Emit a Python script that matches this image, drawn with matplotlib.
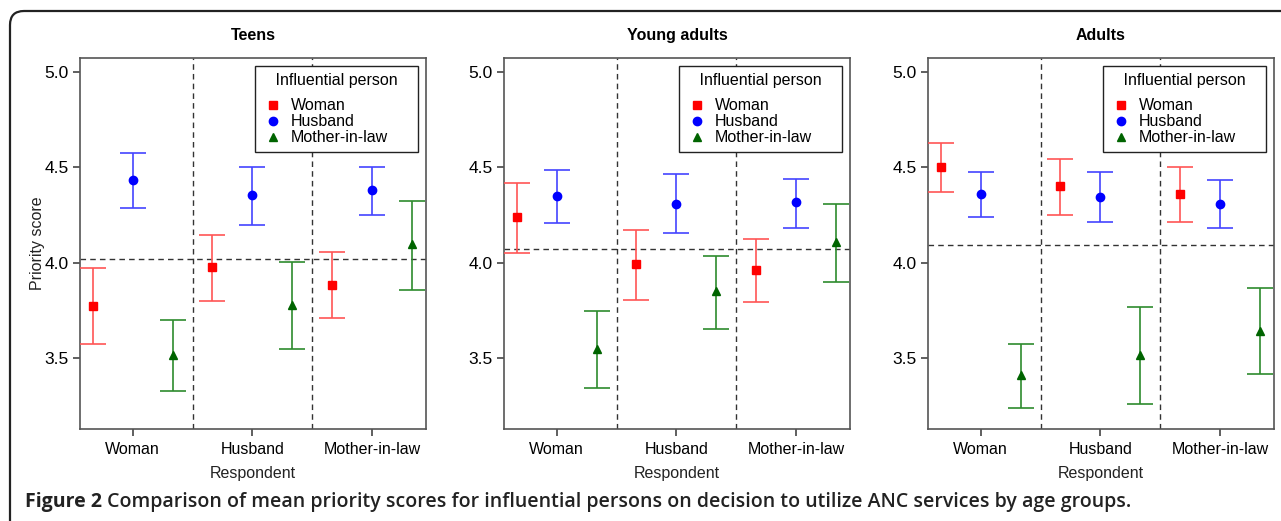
import numpy as np
import matplotlib.pyplot as plt
from matplotlib.lines import Line2D
from matplotlib.patches import FancyBboxPatch

## DADOS
grupos = ['Teens', 'Young adults', 'Adults']
respondentes = ['Woman', 'Husband', 'Mother-in-law']
influentes = ['Woman', 'Husband', 'Mother-in-law']

# linhas = pessoa influente (Woman, Husband, Mother-in-law), colunas = respondente
teens_media = [[3.775, 3.975, 3.885], [4.435, 4.356, 4.382], [3.518, 3.777, 4.098]]
teens_inf = [[3.571, 3.797, 3.712], [4.286, 4.199, 4.251], [3.326, 3.545, 3.857]]
teens_sup = [[3.972, 4.147, 4.054], [4.577, 4.504, 4.504], [3.700, 4.002, 4.325]]

young_media = [[4.237, 3.993, 3.960], [4.347, 4.310, 4.316], [3.550, 3.850, 4.108]]
young_inf = [[4.050, 3.803, 3.792], [4.208, 4.155, 4.182], [3.342, 3.654, 3.897]]
young_sup = [[4.420, 4.173, 4.126], [4.488, 4.464, 4.440], [3.745, 4.037, 4.309]]

adults_media = [[4.501, 4.400, 4.360], [4.360, 4.344, 4.310], [3.410, 3.518, 3.644]]
adults_inf = [[4.373, 4.250, 4.213], [4.239, 4.213, 4.182], [3.236, 3.257, 3.414]]
adults_sup = [[4.630, 4.545, 4.499], [4.473, 4.473, 4.435], [3.574, 3.766, 3.865]]

media_geral = [4.020, 4.073, 4.094]

dados = [(teens_media, teens_inf, teens_sup),
         (young_media, young_inf, young_sup),
         (adults_media, adults_inf, adults_sup)]

## ESTILO
plt.rcParams['font.family'] = ['Liberation Sans', 'DejaVu Sans']
plt.rcParams['font.size'] = 11.5

cores_marc = ['#ff0000', '#0000ff', '#006400']
cores_barra = ['#ff5555', '#4444ff', '#2e8b2e']
marcadores = ['s', 'o', '^']
tam_marc = [5.5, 6, 6]
desloc = [-1/3, 0, 1/3]

fig = plt.figure(figsize=(12.81, 5.21), dpi=100)

# moldura arredondada
fundo = fig.add_axes([0, 0, 1, 1], zorder=-1)
fundo.set_xlim(0, 1281)
fundo.set_ylim(521, 0)
fundo.axis('off')
fundo.add_patch(FancyBboxPatch((10, 11), 1320, 560, boxstyle='round,pad=0,rounding_size=14',
                               facecolor='white', edgecolor='#222222', linewidth=1.6))

esquerdas = [80, 504, 928]
x = np.arange(1, 4)
for i, (grupo, (med, inf, sup)) in enumerate(zip(grupos, dados)):
    ax = fig.add_axes([esquerdas[i] / 1281, 92 / 521, 346 / 1281, 371 / 521])
    for j in range(3):
        m = np.array(med[j])
        erro = [m - np.array(inf[j]), np.array(sup[j]) - m]
        ax.errorbar(x + desloc[j], m, yerr=erro, fmt='none', ecolor=cores_barra[j],
                    elinewidth=1.2, capsize=9.5, capthick=1.2, zorder=3)
        ax.plot(x + desloc[j], m, linestyle='none', marker=marcadores[j], color=cores_marc[j],
                markersize=tam_marc[j], zorder=4)
    ax.axhline(media_geral[i], color='#333333', linestyle=(0, (4, 3)), linewidth=1, zorder=2)
    for xv in [1.5, 2.5]:
        ax.axvline(xv, color='#333333', linestyle=(0, (4, 3)), linewidth=1, zorder=2)
    ax.set_xlim(0.56, 3.45)
    ax.set_ylim(3.128, 5.073)
    ax.set_yticks([3.5, 4.0, 4.5, 5.0])
    ax.set_yticklabels(['3.5', '4.0', '4.5', '5.0'], fontsize=12.5)
    ax.set_xticks(x)
    ax.set_xticklabels(respondentes, fontsize=11.5)
    ax.tick_params(axis='both', direction='out', length=5, width=1.2, color='#444444', pad=3)
    ax.tick_params(axis='x', pad=4.5)
    for sp in ax.spines.values():
        sp.set_color('#555555')
        sp.set_linewidth(1.2)
    ax.set_xlabel('Respondent', fontsize=11.5, color='#222222', labelpad=6)
    if i == 0:
        ax.set_ylabel('Priority score', fontsize=11.5, color='#222222', labelpad=0)
    ax.set_title(grupo, fontsize=11.5, fontweight='bold', pad=13)

    alcas = [Line2D([0], [0], linestyle='none', marker=marcadores[k], color=cores_marc[k],
                    markersize=tam_marc[k]) for k in range(3)]
    leg = ax.legend(alcas, influentes, title='   Influential person   ', loc='upper right',
                    fontsize=11.5, title_fontsize=11.5, fancybox=False, framealpha=1,
                    edgecolor='#222222', borderaxespad=0.5, labelspacing=0.07,
                    handlelength=1.3, handletextpad=0.5, borderpad=0.42,
                    alignment='left')
    leg._legend_box.sep = 7.5
    leg.get_frame().set_linewidth(1.0)
    leg.set_zorder(5)

# legenda da figura
t1 = fig.text(25 / 1281, 1 - 507 / 521, 'Figure 2', fontsize=14, fontweight='bold',
              family=['Open Sans', 'DejaVu Sans'], color='#222222', va='baseline')
fig.canvas.draw()
bb = t1.get_window_extent()
fig.text(bb.x1 / 1281, 1 - 507 / 521,
         ' Comparison of mean priority scores for influential persons on decision to utilize ANC services by age groups.',
         fontsize=14, fontweight='semibold', family=['Open Sans', 'DejaVu Sans'], color='#222222',
         va='baseline')

plt.savefig('out.png', dpi=100)
